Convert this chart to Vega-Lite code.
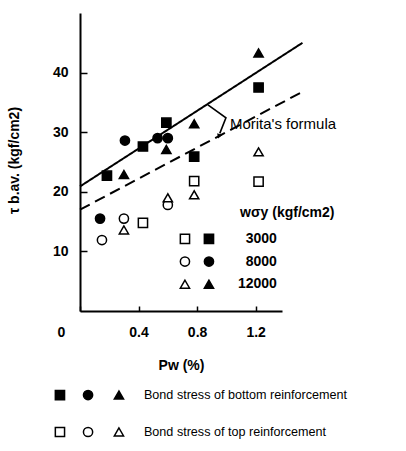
{
  "$schema": "https://vega.github.io/schema/vega-lite/v6.json",
  "autosize": {"type": "none"},
  "padding": {"left": 80, "top": 13, "right": 124, "bottom": 140},
  "width": 202,
  "height": 298,
  "background": "white",
  "config": {
    "font": "Liberation Sans",
    "view": {"stroke": null},
    "axis": {"grid": false, "domainColor": "black", "domainWidth": 2, "tickColor": "black", "tickWidth": 1.5, "labelColor": "black", "titleColor": "black", "labelFont": "Liberation Sans", "titleFont": "Liberation Sans", "labelFontWeight": "bold", "titleFontWeight": "bold", "labelFontSize": 14, "titleFontSize": 14}
  },
  "datasets": {
    "points": [
      {"pw": 0.184, "tau": 22.7, "wsy": "3000", "pos": "bottom"},
      {"pw": 0.43, "tau": 27.6, "wsy": "3000", "pos": "bottom"},
      {"pw": 0.59, "tau": 31.6, "wsy": "3000", "pos": "bottom"},
      {"pw": 0.78, "tau": 25.9, "wsy": "3000", "pos": "bottom"},
      {"pw": 1.22, "tau": 37.5, "wsy": "3000", "pos": "bottom"},
      {"pw": 0.137, "tau": 15.5, "wsy": "8000", "pos": "bottom"},
      {"pw": 0.307, "tau": 28.6, "wsy": "8000", "pos": "bottom"},
      {"pw": 0.53, "tau": 29.0, "wsy": "8000", "pos": "bottom"},
      {"pw": 0.60, "tau": 29.0, "wsy": "8000", "pos": "bottom"},
      {"pw": 0.30, "tau": 22.9, "wsy": "12000", "pos": "bottom"},
      {"pw": 0.59, "tau": 27.1, "wsy": "12000", "pos": "bottom"},
      {"pw": 0.78, "tau": 31.4, "wsy": "12000", "pos": "bottom"},
      {"pw": 1.22, "tau": 43.3, "wsy": "12000", "pos": "bottom"},
      {"pw": 0.43, "tau": 14.8, "wsy": "3000", "pos": "top"},
      {"pw": 0.78, "tau": 21.8, "wsy": "3000", "pos": "top"},
      {"pw": 1.22, "tau": 21.7, "wsy": "3000", "pos": "top"},
      {"pw": 0.15, "tau": 11.9, "wsy": "8000", "pos": "top"},
      {"pw": 0.30, "tau": 15.5, "wsy": "8000", "pos": "top"},
      {"pw": 0.60, "tau": 17.8, "wsy": "8000", "pos": "top"},
      {"pw": 0.30, "tau": 13.6, "wsy": "12000", "pos": "top"},
      {"pw": 0.60, "tau": 19.0, "wsy": "12000", "pos": "top"},
      {"pw": 0.78, "tau": 19.5, "wsy": "12000", "pos": "top"},
      {"pw": 1.22, "tau": 26.7, "wsy": "12000", "pos": "top"}
    ],
    "lines": [
      {"line": "solid", "pw": 0, "tau": 20.9},
      {"line": "solid", "pw": 1.52, "tau": 45.0},
      {"line": "dashed", "pw": 0, "tau": 17.0},
      {"line": "dashed", "pw": 1.536, "tau": 37.0}
    ],
    "leader": [
      {"pw": 0.874, "tau": 34.6, "o": 1},
      {"pw": 0.997, "tau": 32.4, "o": 2},
      {"pw": 0.955, "tau": 29.8, "o": 3}
    ],
    "legendSymbols": [
      {"wsy": "3000", "pos": "top", "lx": 0.717, "ly": 12.1},
      {"wsy": "3000", "pos": "bottom", "lx": 0.881, "ly": 12.1},
      {"wsy": "8000", "pos": "top", "lx": 0.717, "ly": 8.3},
      {"wsy": "8000", "pos": "bottom", "lx": 0.881, "ly": 8.3},
      {"wsy": "12000", "pos": "top", "lx": 0.717, "ly": 4.5},
      {"wsy": "12000", "pos": "bottom", "lx": 0.881, "ly": 4.5},
      {"wsy": "3000", "pos": "bottom", "lx": -0.137, "ly": -14.1},
      {"wsy": "8000", "pos": "bottom", "lx": 0.055, "ly": -14.1},
      {"wsy": "12000", "pos": "bottom", "lx": 0.266, "ly": -14.1},
      {"wsy": "3000", "pos": "top", "lx": -0.137, "ly": -20.3},
      {"wsy": "8000", "pos": "top", "lx": 0.055, "ly": -20.3},
      {"wsy": "12000", "pos": "top", "lx": 0.266, "ly": -20.3}
    ],
    "legendLabels": [
      {"label": "3000", "lx": 1.345, "ly": 12.1},
      {"label": "8000", "lx": 1.345, "ly": 8.3},
      {"label": "12000", "lx": 1.345, "ly": 4.5}
    ],
    "bottomLabels": [
      {"label": "Bond stress of bottom reinforcement", "lx": 0.437, "ly": -14.1},
      {"label": "Bond stress of top reinforcement", "lx": 0.437, "ly": -20.3}
    ]
  },
  "layer": [
    {
      "data": {"name": "lines"},
      "mark": {"type": "line", "color": "black", "strokeWidth": 2, "clip": false},
      "encoding": {
        "x": {"field": "pw", "type": "quantitative", "scale": {"domain": [0, 1.38], "nice": false, "zero": false},
          "axis": {"title": "Pw (%)", "values": [0, 0.2, 0.4, 0.6, 0.8, 1.0, 1.2], "tickSize": -5, "labelPadding": 19,
            "labelExpr": "datum.value == 0 ? '0' : (datum.value == 0.4 || datum.value == 0.8 || datum.value == 1.2) ? format(datum.value, '.1f') : ''",
            "labelOffset": {"condition": {"test": "datum.value == 0", "value": -23}, "value": 0},
            "titleY": 54, "titleBaseline": "middle"}},
        "y": {"field": "tau", "type": "quantitative", "scale": {"domain": [0, 50], "nice": false},
          "axis": {"title": "τ b.av. (kgf/cm2)", "values": [10, 20, 30, 40], "tickSize": -7, "labelPadding": 19,
            "titleX": -66, "titleBaseline": "middle", "titleY": 147}},
        "detail": {"field": "line"},
        "strokeDash": {"field": "line", "type": "nominal", "scale": {"domain": ["solid", "dashed"], "range": [[1, 0], [11, 6]]}, "legend": null}
      }
    },
    {
      "data": {"name": "leader"},
      "mark": {"type": "line", "color": "black", "strokeWidth": 1.6, "clip": false},
      "encoding": {
        "x": {"field": "pw", "type": "quantitative"},
        "y": {"field": "tau", "type": "quantitative"},
        "order": {"field": "o"}
      }
    },
    {
      "data": {"values": [{"pw": 0.949, "tau": 29.3}]},
      "mark": {"type": "point", "shape": "triangle-down", "filled": true, "color": "black", "size": 30, "angle": 20, "opacity": 1},
      "encoding": {
        "x": {"field": "pw", "type": "quantitative"},
        "y": {"field": "tau", "type": "quantitative"}
      }
    },
    {
      "data": {"values": [{"label": "Morita's formula", "pw": 1.024, "tau": 31.3}]},
      "mark": {"type": "text", "align": "left", "baseline": "middle", "fontSize": 15, "color": "black", "clip": false},
      "encoding": {
        "x": {"field": "pw", "type": "quantitative"},
        "y": {"field": "tau", "type": "quantitative"},
        "text": {"field": "label"}
      }
    },
    {
      "data": {"name": "points"},
      "mark": {"type": "point", "stroke": "black", "strokeWidth": 1.5, "opacity": 1, "size": 85, "clip": false},
      "encoding": {
        "x": {"field": "pw", "type": "quantitative"},
        "y": {"field": "tau", "type": "quantitative"},
        "shape": {"field": "wsy", "type": "nominal", "scale": {"domain": ["3000", "8000", "12000"], "range": ["square", "circle", "triangle-up"]}, "legend": null},
        "fill": {"field": "pos", "type": "nominal", "scale": {"domain": ["bottom", "top"], "range": ["black", "white"]}, "legend": null}
      }
    },
    {
      "data": {"name": "legendSymbols"},
      "mark": {"type": "point", "stroke": "black", "strokeWidth": 1.5, "opacity": 1, "size": 85, "clip": false},
      "encoding": {
        "x": {"field": "lx", "type": "quantitative"},
        "y": {"field": "ly", "type": "quantitative"},
        "shape": {"field": "wsy", "type": "nominal", "legend": null},
        "fill": {"field": "pos", "type": "nominal", "legend": null}
      }
    },
    {
      "data": {"name": "legendLabels"},
      "mark": {"type": "text", "align": "right", "baseline": "middle", "fontSize": 14, "fontWeight": "bold", "color": "black", "clip": false},
      "encoding": {
        "x": {"field": "lx", "type": "quantitative"},
        "y": {"field": "ly", "type": "quantitative"},
        "text": {"field": "label"}
      }
    },
    {
      "data": {"values": [{"label": "wσy (kgf/cm2)", "lx": 1.416, "ly": 16.5}]},
      "mark": {"type": "text", "align": "center", "baseline": "middle", "fontSize": 14, "fontWeight": "bold", "color": "black", "clip": false},
      "encoding": {
        "x": {"field": "lx", "type": "quantitative"},
        "y": {"field": "ly", "type": "quantitative"},
        "text": {"field": "label"}
      }
    },
    {
      "data": {"name": "bottomLabels"},
      "mark": {"type": "text", "align": "left", "baseline": "middle", "fontSize": 12.6, "color": "black", "clip": false},
      "encoding": {
        "x": {"field": "lx", "type": "quantitative"},
        "y": {"field": "ly", "type": "quantitative"},
        "text": {"field": "label"}
      }
    }
  ]
}
